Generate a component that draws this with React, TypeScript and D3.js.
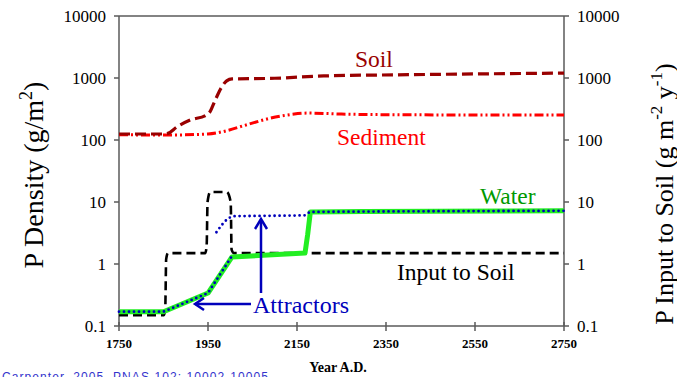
import React from "react";
import * as d3 from "d3";

const W = 677, H = 377;
const xTicks = [1750, 1950, 2150, 2350, 2550, 2750];
const yTicks = [0.1, 1, 10, 100, 1000, 10000];

const soilYears = [1750, 1850, 1860, 1880, 1910, 1945, 1955, 1965, 1980, 1992, 2004, 2100, 2210, 2400, 2750];
const soilVals = [125, 125, 128, 162, 210, 250, 290, 420, 700, 900, 965, 990, 1080, 1130, 1200];

const sedYears = [1750, 1850, 1950, 1990, 2030, 2090, 2140, 2175, 2250, 2400, 2750];
const sedVals = [122, 120, 125, 140, 170, 225, 260, 272, 262, 255, 252];

const inputYears = [1750, 1851, 1854, 1856, 1860, 1944, 1947, 1949, 1955, 1992, 2001, 2003, 2008, 2750];
const inputVals = [0.15, 0.15, 0.2, 1.2, 1.5, 1.5, 2, 10, 14.5, 14.5, 10, 1.7, 1.5, 1.5];

const waterYears = [1750, 1850, 1950, 2004, 2168, 2174, 2180, 2300, 2750];
const waterVals = [0.17, 0.17, 0.34, 1.3, 1.5, 3, 6.9, 7.0, 7.2];

const attrLowYears = [1750, 1850, 1950, 2002];
const attrLowVals = [0.17, 0.17, 0.34, 1.28];

const attrHighYears = [1969, 1981, 1996, 2010, 2100, 2168, 2180, 2300, 2750];
const attrHighVals = [3.25, 4.25, 5.45, 5.9, 6.0, 6.1, 6.9, 7.0, 7.2];

const x = d3.scaleLinear().domain([1750, 2750]).range([119, 564]);
const y = d3.scaleLog().domain([0.1, 10000]).range([326, 16]);

function path(years: number[], vals: number[], curve: any = d3.curveLinear) {
  const pts: [number, number][] = years.map((yr, i) => [yr, vals[i]]);
  return d3.line<[number, number]>().x(d => x(d[0])).y(d => y(d[1])).curve(curve)(pts) || "";
}

const serif = "'Liberation Serif', 'DejaVu Serif', 'Times New Roman', serif";
const axisColor = "#5a5a5a";

export default function App() {
  const fmt = (v: number) => (v < 1 ? "0.1" : String(v));
  return (
    <svg width={W} height={H} style={{ position: "absolute", left: 0, top: 0, background: "#fff" }} fontFamily={serif}>
      {/* frame */}
      <line x1={119} x2={564} y1={16} y2={16} stroke={axisColor} strokeWidth={1.5} />
      <line x1={119} x2={564} y1={326} y2={326} stroke={axisColor} strokeWidth={1.5} />
      <line x1={119} x2={119} y1={16} y2={326} stroke={axisColor} strokeWidth={1.5} />
      <line x1={564} x2={564} y1={16} y2={326} stroke={axisColor} strokeWidth={1.5} />
      {yTicks.map(t => (
        <g key={"yt" + t}>
          <line x1={114} x2={119} y1={y(t)} y2={y(t)} stroke={axisColor} strokeWidth={1.5} />
          <line x1={564} x2={569} y1={y(t)} y2={y(t)} stroke={axisColor} strokeWidth={1.5} />
          <text x={106} y={y(t) + 6} fontSize={17} textAnchor="end" fill="#000">{fmt(t)}</text>
          <text x={577} y={y(t) + 6} fontSize={17} textAnchor="start" fill="#000">{fmt(t)}</text>
        </g>
      ))}
      {xTicks.map(t => (
        <g key={"xt" + t}>
          <line x1={x(t)} x2={x(t)} y1={322} y2={331} stroke={axisColor} strokeWidth={1.5} />
          <text x={x(t)} y={348} fontSize={13} fontWeight="bold" textAnchor="middle" fill="#000">{t}</text>
        </g>
      ))}
      <text x={338} y={372} fontSize={14} fontWeight="bold" textAnchor="middle" fill="#000">Year A.D.</text>
      <text transform="translate(43,175) rotate(-90)" fontSize={28} textAnchor="middle" fill="#000">
        P Density (g/m<tspan dy={-11} fontSize={18}>2</tspan><tspan dy={11}>)</tspan>
      </text>
      <text transform="translate(673,194) rotate(-90)" fontSize={26} textAnchor="middle" fill="#000">
        P Input to Soil (g m<tspan dy={-11} fontSize={17}>-2</tspan><tspan dy={11}> y</tspan><tspan dy={-11} fontSize={17}>-1</tspan><tspan dy={11}>)</tspan>
      </text>

      {/* series */}
      <path d={path(sedYears, sedVals, d3.curveMonotoneX)} fill="none" stroke="#ff0000" strokeWidth={3} strokeDasharray="9 3 2 3 2 3" />
      <path d={path(soilYears, soilVals, d3.curveMonotoneX)} fill="none" stroke="#990000" strokeWidth={3.2} strokeDasharray="11 5" />
      <path d={path(inputYears, inputVals, d3.curveMonotoneX)} fill="none" stroke="#000" strokeWidth={2.6} strokeDasharray="9 5" />
      <path d={path(waterYears, waterVals)} fill="none" stroke="#22ee22" strokeWidth={5} strokeLinejoin="round" />
      <path d={path(attrLowYears, attrLowVals)} fill="none" stroke="#0000bb" strokeWidth={2.8} strokeDasharray="0 5" strokeLinecap="round" />
      <path d={path(attrHighYears, attrHighVals, d3.curveMonotoneX)} fill="none" stroke="#0000bb" strokeWidth={2.8} strokeDasharray="0 5" strokeLinecap="round" />

      {/* labels */}
      <text x={355} y={67} fontSize={23.5} fill="#990000">Soil</text>
      <text x={337} y={145} fontSize={23.5} fill="#ff0000">Sediment</text>
      <text x={480} y={204} fontSize={23.5} fill="#009900">Water</text>
      <text x={397} y={280} fontSize={23.5} fill="#000">Input to Soil</text>
      <text x={253} y={313} fontSize={24} fill="#0000bb">Attractors</text>

      {/* arrows */}
      <g stroke="#0000bb" strokeWidth={2.5} fill="none">
        <line x1={251} y1={304} x2={195} y2={304} />
        <polyline points="204,298 195,304 204,310" />
        <line x1={261} y1={293} x2={261} y2={220} />
        <polyline points="255,229 261,219 267,229" />
      </g>

      <text x={2} y={381} fontSize={12} fill="#3333cc" fontFamily="'Liberation Sans', Arial, sans-serif" textLength={266}>
        Carpenter, 2005, PNAS 102: 10002-10005
      </text>
    </svg>
  );
}
